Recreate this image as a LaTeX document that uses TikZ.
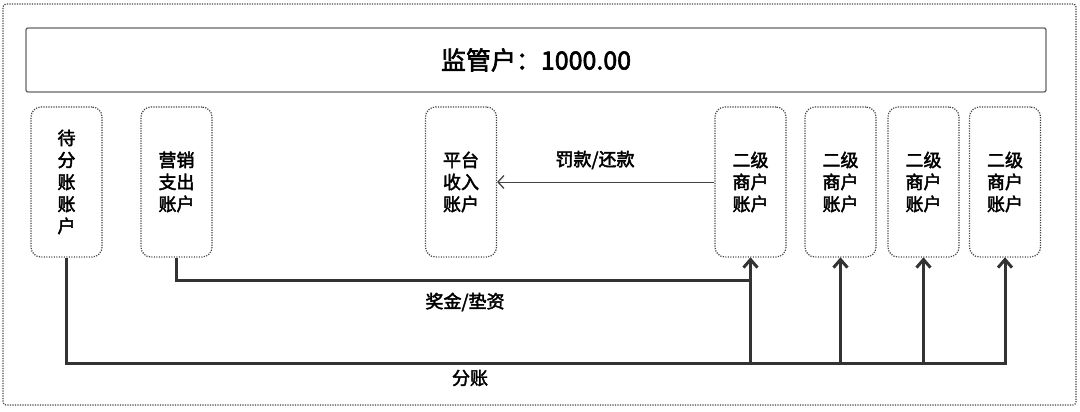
\documentclass[tikz,border=0pt]{standalone}
\usepackage{fontspec}
\usetikzlibrary{arrows.meta}
\newfontfamily\cjk[FakeBold=2.4]{Noto Sans CJK SC}
\definecolor{lineC}{HTML}{333333}
\definecolor{dotC}{HTML}{444444}
\tikzset{
  dotline/.style={draw=dotC, line width=1.2pt, dash pattern=on 1.2pt off 1.3pt},
  acct/.style={dotline, rounded corners=10pt,
    minimum width=71pt, minimum height=150pt, inner sep=0pt, align=center,
    font=\cjk\fontsize{18}{22}\selectfont},
  flow/.style={draw=lineC, line width=3pt},
  chev/.style={draw=lineC, line width=3pt, line join=miter, line cap=butt},
  thinarrow/.style={draw=dotC, line width=1pt, -{Straight Barb[length=6pt,width=13pt,line width=1.3pt]}},
  lbl/.style={font=\cjk\fontsize{18}{22}\selectfont, inner sep=0pt}
}
\begin{document}
\begin{tikzpicture}[x=1pt,y=-1pt]
\useasboundingbox (0,0) rectangle (1080,412);
\node[dotline, rounded corners=3pt, minimum width=1073pt, minimum height=401pt, inner sep=0pt] (outer) at (539.5,204.5) {};
\node[draw=gray!80!black, line width=1.3pt, rounded corners=2pt, minimum width=1020pt, minimum height=64pt, inner sep=0pt, font=\cjk\fontsize{25}{30}\selectfont] (top) at (536,60) {监管户：1000.00};
\node[acct] (b1) at (66.5,182) {待\\分\\账\\账\\户};
\node[acct] (b2) at (176.5,182) {营销\\支出\\账户};
\node[acct] (b3) at (461,182) {平台\\收入\\账户};
\node[acct] (b4) at (750.5,182) {二级\\商户\\账户};
\node[acct] (b5) at (840.5,182) {二级\\商户\\账户};
\node[acct] (b6) at (923.5,182) {二级\\商户\\账户};
\node[acct] (b7) at (1005,182) {二级\\商户\\账户};
\coordinate (j1) at (b1.south |- 0,363);
\coordinate (j4) at (b4.south |- j1);
\coordinate (j5) at (b5.south |- j1);
\coordinate (j6) at (b6.south |- j1);
\coordinate (k4) at (b4.south |- 0,280);
\draw[flow, line join=miter] (b1.south) -- (j1) -- (j6);
\draw[flow, line join=miter] (j6) -| ([yshift=-2pt]b7.south);
\draw[flow] (j4) -- ([yshift=-2pt]b4.south);
\draw[flow] (j5) -- ([yshift=-2pt]b5.south);
\draw[flow] (j6) -- ([yshift=-2pt]b6.south);
\foreach \b in {b4,b5,b6,b7}{
  \draw[chev] ([shift={(-7pt,-10pt)}]\b.south) -- ([yshift=-2pt]\b.south) -- ([shift={(7pt,-10pt)}]\b.south);
}
\draw[flow, line join=miter] (b2.south) |- (k4);
\draw[thinarrow] (b4) -- (b3);
\node[lbl] (l1) at (595,160) {罚款/还款};
\node[lbl] (l2) at (465,302) {奖金/垫资};
\node[lbl] (l3) at (470,378) {分账};
\end{tikzpicture}
\end{document}
